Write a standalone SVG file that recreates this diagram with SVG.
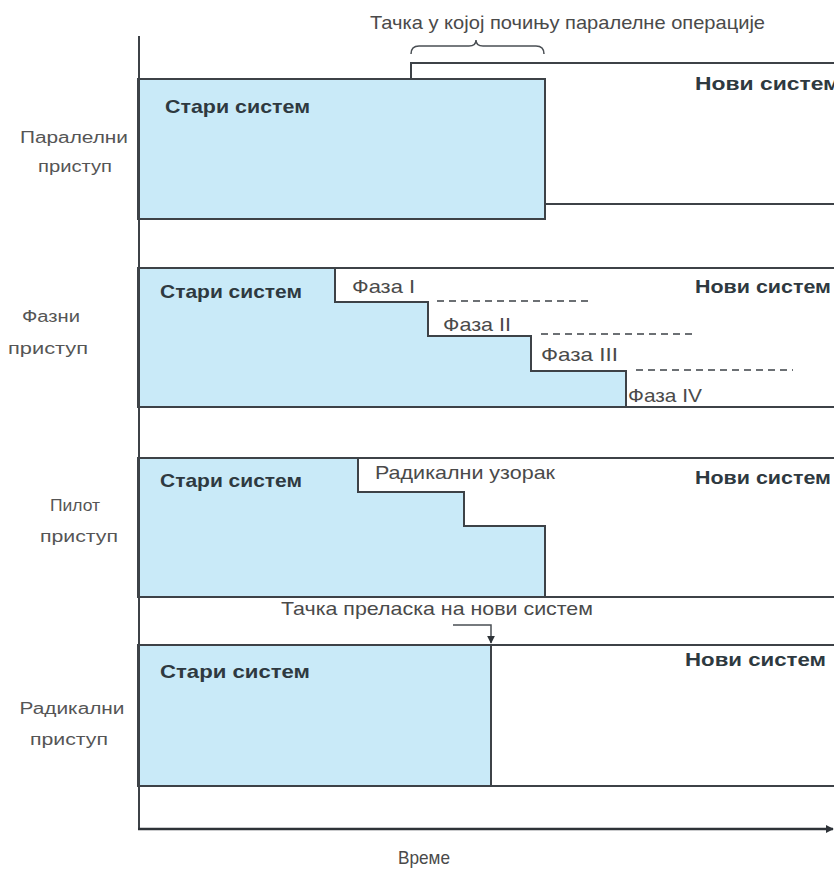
<svg xmlns="http://www.w3.org/2000/svg" width="834" height="870" viewBox="0 0 834 870">
  <style>
    .ln { stroke: #3d4247; stroke-width: 2; fill: none; }
    .old { fill: #c9eaf8; stroke: #3d4247; stroke-width: 2; }
    .dash { stroke: #3d4247; stroke-width: 1.5; stroke-dasharray: 7 5; fill: none; }
    .thin { stroke: #4a4f54; stroke-width: 1.5; fill: none; }
    .axis { stroke: #2e3338; stroke-width: 2.5; fill: none; }
    .lbl { font-family: "Liberation Sans", Arial, sans-serif; font-size: 16px; fill: #555; }
    .note { font-family: "Liberation Sans", Arial, sans-serif; font-size: 18.5px; fill: #4a4a4a; }
    .sys { font-family: "Liberation Sans", Arial, sans-serif; font-size: 18.5px; font-weight: bold; fill: #2e3940; }
  </style>
  <defs>
    <marker id="ah" viewBox="0 0 10 10" refX="9" refY="5" markerWidth="8" markerHeight="8" orient="auto" markerUnits="userSpaceOnUse">
      <path d="M0,0 L10,5 L0,10 Z" fill="#2e3338"/>
    </marker>
  </defs>
  <rect width="834" height="870" fill="#ffffff"/>

  <!-- side labels -->
  <g id="row-labels">
    <text class="lbl" x="74" y="143" text-anchor="middle" textLength="108" lengthAdjust="spacingAndGlyphs">Паралелни</text>
    <text class="lbl" x="75" y="172" text-anchor="middle" textLength="74" lengthAdjust="spacingAndGlyphs">приступ</text>
    <text class="lbl" x="51" y="322" text-anchor="middle" textLength="58" lengthAdjust="spacingAndGlyphs">Фазни</text>
    <text class="lbl" x="48" y="354" text-anchor="middle" textLength="80" lengthAdjust="spacingAndGlyphs">приступ</text>
    <text class="lbl" x="75" y="511" text-anchor="middle" textLength="50" lengthAdjust="spacingAndGlyphs">Пилот</text>
    <text class="lbl" x="79" y="542" text-anchor="middle" textLength="78" lengthAdjust="spacingAndGlyphs">приступ</text>
    <text class="lbl" x="72" y="714" text-anchor="middle" textLength="105" lengthAdjust="spacingAndGlyphs">Радикални</text>
    <text class="lbl" x="69" y="745" text-anchor="middle" textLength="78" lengthAdjust="spacingAndGlyphs">приступ</text>
  </g>

  <!-- parallel approach -->
  <g id="parallel">
    <path class="ln" d="M411,79 V63 H834 M545,204 H834"/>
    <rect class="old" x="138" y="79" width="407" height="140"/>
    <text class="sys" x="165" y="113" textLength="145" lengthAdjust="spacingAndGlyphs">Стари систем</text>
    <text class="sys" x="695" y="90" textLength="145" lengthAdjust="spacingAndGlyphs">Нови  систем</text>
    <path class="thin" d="M411,54 Q411,46 419,46 H469 Q476,46 476,40 Q476,46 483,46 H536 Q544,46 544,54"/>
    <text class="note" x="370" y="29" textLength="395" lengthAdjust="spacingAndGlyphs">Тачка у којој почињу паралелне операције</text>
  </g>

  <!-- phased approach -->
  <g id="phased">
    <path class="old" d="M138,268 H335 V302 H428 V336 H531 V371 H626 V407 H138 Z"/>
    <path class="ln" d="M335,268 H834 M626,407 H834"/>
    <path class="dash" d="M437,301 H593 M541,334 H697 M636,370 H793"/>
    <text class="sys" x="160" y="298" textLength="142" lengthAdjust="spacingAndGlyphs">Стари систем</text>
    <text class="sys" x="695" y="293" textLength="136" lengthAdjust="spacingAndGlyphs">Нови систем</text>
    <text class="note" x="352" y="293" textLength="63" lengthAdjust="spacingAndGlyphs">Фаза I</text>
    <text class="note" x="443" y="331" textLength="68" lengthAdjust="spacingAndGlyphs">Фаза II</text>
    <text class="note" x="541" y="361" textLength="77" lengthAdjust="spacingAndGlyphs">Фаза III</text>
    <text class="note" x="628" y="402" textLength="74" lengthAdjust="spacingAndGlyphs">Фаза IV</text>
  </g>

  <!-- pilot approach -->
  <g id="pilot">
    <path class="old" d="M138,458 H358 V492 H464 V526 H545 V597 H138 Z"/>
    <path class="ln" d="M358,458 H834 M545,597 H834"/>
    <text class="sys" x="160" y="487" textLength="142" lengthAdjust="spacingAndGlyphs">Стари систем</text>
    <text class="sys" x="695" y="484" textLength="136" lengthAdjust="spacingAndGlyphs">Нови систем</text>
    <text class="note" x="375" y="479" textLength="180" lengthAdjust="spacingAndGlyphs">Радикални узорак</text>
  </g>

  <!-- direct cutover -->
  <g id="radical">
    <rect class="old" x="138" y="645" width="353" height="141"/>
    <path class="ln" d="M491,645 H834 M491,786 H834"/>
    <text class="sys" x="160" y="678" textLength="150" lengthAdjust="spacingAndGlyphs">Стари  систем</text>
    <text class="sys" x="685" y="666" textLength="141" lengthAdjust="spacingAndGlyphs">Нови  систем</text>
    <text class="note" x="281" y="615" textLength="312" lengthAdjust="spacingAndGlyphs">Тачка преласка на нови систем</text>
  </g>

  <!-- pointers and axes -->
  <g id="connectors">
    <path class="thin" d="M453,625 H491 V643" marker-end="url(#ah)"/>
    <path class="ln" d="M139,36 V829"/>
    <path class="axis" d="M138,829 H833" marker-end="url(#ah)"/>
    <text class="note" x="424" y="864" text-anchor="middle" textLength="52" lengthAdjust="spacingAndGlyphs">Време</text>
  </g>
</svg>
